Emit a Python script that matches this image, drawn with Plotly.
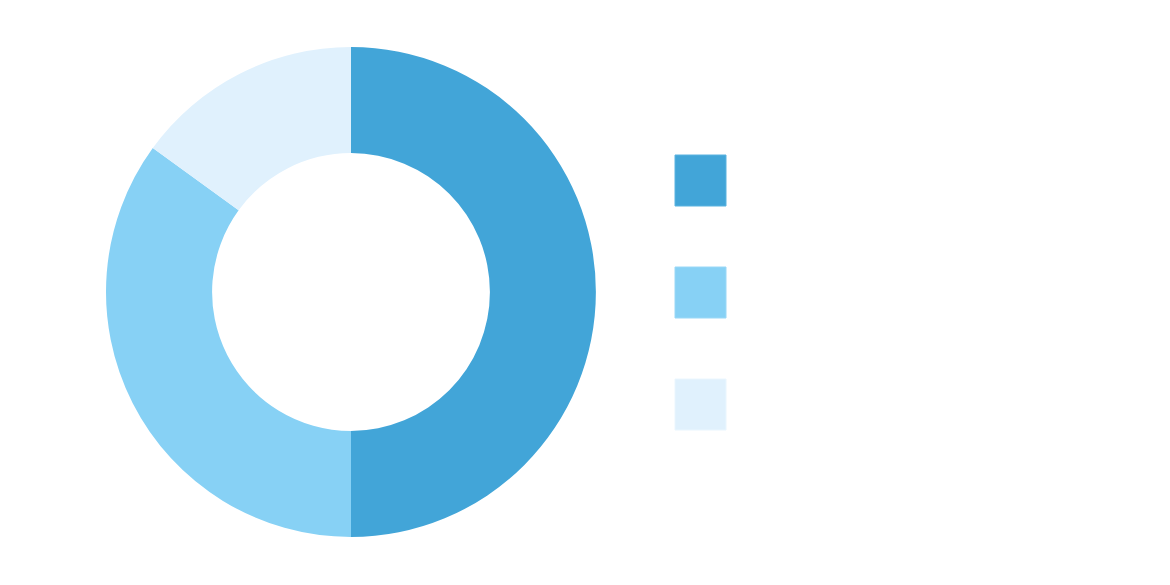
import plotly.graph_objects as go

labels = ["Category A", "Category B with a longer label", "Category C"]
values = [50, 35, 15]
colors = ["#42A5D8", "#87D1F5", "#E0F1FD"]

W, H = 1170, 585
off = 8  # page body margin
cx, cy, R = 351 - off, 292 - off, 245

fig = go.Figure()
fig.add_trace(go.Pie(
    labels=labels, values=values, hole=0.567, sort=False,
    direction="clockwise", rotation=0,
    marker=dict(colors=colors, line=dict(width=0)),
    textinfo="none", showlegend=False,
    domain=dict(x=[(cx - R) / W, (cx + R) / W],
                y=[(H - cy - R) / H, (H - cy + R) / H]),
))

# legend drawn as square markers with (white) labels
lx, ly0, step = 700.5 - off, 180.5 - off, 112
fig.add_trace(go.Scatter(
    x=[0] * len(labels), y=labels, mode="markers+text",
    marker=dict(symbol="square", size=51, color=colors,
                line=dict(width=1, color=["#5BB3E0", "#9AD8F7", "#EAF6FE"])),
    text=["      " + l for l in labels], textposition="middle right",
    textfont=dict(color="#FFFFFF", size=20, family="Roboto"),
    showlegend=False, hoverinfo="skip",
    xaxis="x", yaxis="y",
))

y1 = ly0 + step  # pixel of category index 1
fig.update_layout(
    width=W, height=H, margin=dict(l=0, r=0, t=0, b=0),
    paper_bgcolor="white", plot_bgcolor="rgba(0,0,0,0)",
    xaxis=dict(domain=[0, 1], range=[-lx / 1000, (W - lx) / 1000],
               visible=False, fixedrange=True),
    yaxis=dict(domain=[0, 1], type="category",
               range=[1 + (H - y1) / step, 1 - y1 / step],
               visible=False, fixedrange=True),
)

fig.write_html("out.html")
